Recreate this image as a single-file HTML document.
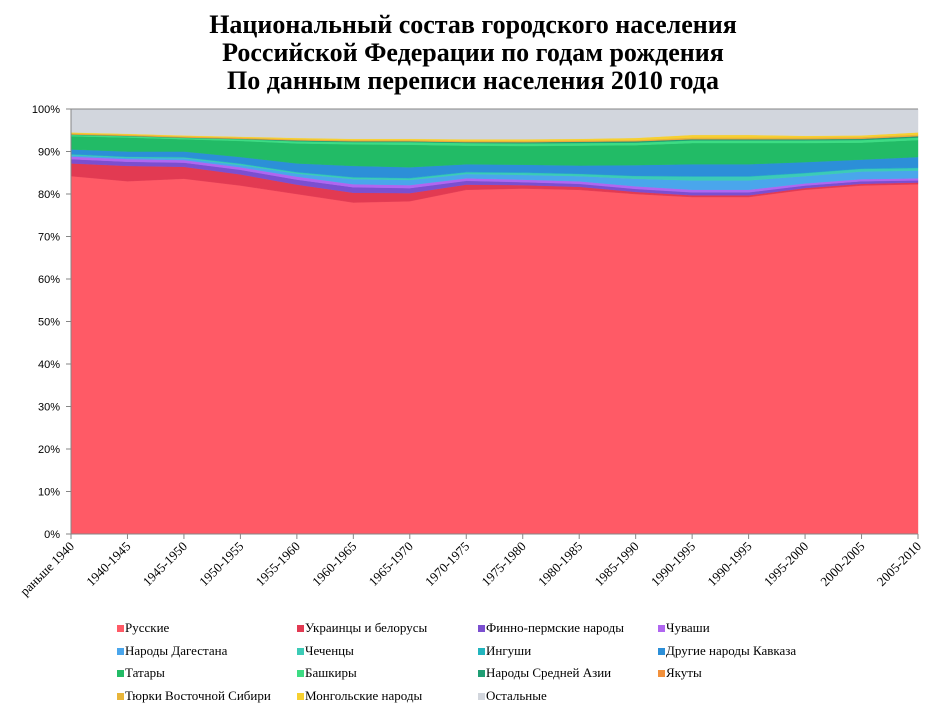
<!DOCTYPE html>
<html><head><meta charset="utf-8">
<style>
html,body{margin:0;padding:0;background:#fff;}
body{width:945px;height:718px;overflow:hidden;font-family:"Liberation Serif","Noto Serif CJK SC",serif;}
svg{display:block;}
</style></head>
<body>
<svg id="chart" width="945" height="718" viewBox="0 0 945 718" xmlns="http://www.w3.org/2000/svg">
<g font-family="Liberation Serif, serif" font-weight="bold" font-size="26" text-anchor="middle" fill="#000">
<text x="473" y="33">Национальный состав городского населения</text>
<text x="473" y="61">Российской Федерации по годам рождения</text>
<text x="473" y="89">По данным переписи населения 2010 года</text>
</g>
<g id="plot"></g>
<g id="axes"></g>
<g id="legend"></g>
</svg>
<script>
const categories = ["раньше 1940","1940-1945","1945-1950","1950-1955","1955-1960","1960-1965","1965-1970","1970-1975","1975-1980","1980-1985","1985-1990","1990-1995","1990-1995","1995-2000","2000-2005","2005-2010"];
const seriesNames = ["Русские","Украинцы и белорусы","Финно-пермские народы","Чуваши","Народы Дагестана","Чеченцы","Ингуши","Другие народы Кавказа","Татары","Башкиры","Народы Средней Азии","Якуты","Тюрки Восточной  Сибири","Монгольские народы","Остальные"];
const seriesColors = ["#FF5A66","#E23A52","#7B4FD0","#B066F0","#4AA6EC","#3CCBB6","#22B5BE","#2C8FD8","#22BB66","#3DDC84","#1F9E74","#F2913C","#E8B53A","#F7D030","#D2D6DD"];
const sRus   = [84.2,83.0,83.6,82.0,80.0,78.0,78.3,81.0,81.3,81.0,80.0,79.3,79.3,81.0,82.0,82.3];
const sUkr   = [3.0,3.6,2.8,2.6,2.2,2.3,1.9,1.2,0.8,0.7,0.5,0.4,0.4,0.4,0.4,0.4];
const sFinno = [1.0,1.0,1.0,1.1,1.2,1.3,1.2,0.9,0.7,0.7,0.7,0.7,0.7,0.6,0.6,0.5];
const sChuv  = [0.6,0.6,0.6,0.6,0.7,0.7,0.7,0.6,0.6,0.6,0.6,0.6,0.6,0.5,0.5,0.5];
const sDag   = [0.3,0.3,0.4,0.5,0.7,1.2,1.2,1.0,1.1,1.2,1.8,2.2,2.2,1.7,1.8,1.8];
const sChech = [0.2,0.2,0.2,0.3,0.3,0.4,0.4,0.4,0.5,0.5,0.6,0.9,0.9,0.7,0.6,0.6];
const sIng   = [0.1,0.1,0.1,0.1,0.1,0.1,0.1,0.1,0.1,0.1,0.1,0.1,0.1,0.1,0.1,0.1];
const sCauc  = [1.1,1.2,1.3,1.5,2.0,2.6,2.5,1.8,1.8,1.9,2.5,2.8,2.8,2.5,2.1,2.5];
const sTat   = [3.1,3.3,2.9,3.8,4.7,5.1,5.3,4.4,4.4,4.7,4.7,5.0,5.0,4.5,4.0,4.0];
const sBash  = [0.3,0.3,0.3,0.4,0.5,0.5,0.6,0.6,0.6,0.6,0.6,0.6,0.6,0.6,0.6,0.6];
const sCAsia = [0.1,0.1,0.1,0.1,0.2,0.2,0.2,0.2,0.3,0.3,0.3,0.3,0.3,0.3,0.3,0.3];
const sYak   = [0.1,0.1,0.1,0.1,0.1,0.1,0.1,0.1,0.1,0.1,0.1,0.1,0.1,0.1,0.1,0.1];
const sTurk  = [0.2,0.2,0.2,0.2,0.2,0.2,0.2,0.2,0.2,0.2,0.2,0.3,0.3,0.3,0.3,0.3];
const sMong  = [0.2,0.2,0.2,0.2,0.3,0.3,0.3,0.4,0.4,0.4,0.5,0.6,0.6,0.4,0.4,0.5];
const sOther = [5.5,5.8,6.2,6.5,6.8,7.0,7.0,7.1,7.1,7.0,6.8,6.1,6.1,6.3,6.2,5.5];
const yTicks = [0,10,20,30,40,50,60,70,80,90,100];

const series = [sRus,sUkr,sFinno,sChuv,sDag,sChech,sIng,sCauc,sTat,sBash,sCAsia,sYak,sTurk,sMong,sOther];
const NS="http://www.w3.org/2000/svg";
const X0=71, X1=918, Y0=534, Y1=109;
function xScale(i){return X0+(X1-X0)*i/(categories.length-1);}
function yScale(v){return Y0-(Y0-Y1)*v/100;}
function mk(tag,attrs,parent){const e=document.createElementNS(NS,tag);for(const k in attrs)e.setAttribute(k,attrs[k]);parent.appendChild(e);return e;}

const plot=document.getElementById('plot');
const n=categories.length;
const totals=categories.map((c,i)=>series.reduce((s,a)=>s+a[i],0));
let cum=new Array(n).fill(0);
series.forEach((arr,si)=>{
  const lower=cum.slice();
  const upper=cum.map((c,i)=>c+arr[i]/totals[i]*100);
  let d="";
  for(let i=0;i<n;i++) d+=(i?"L":"M")+xScale(i).toFixed(1)+","+yScale(upper[i]).toFixed(1);
  for(let i=n-1;i>=0;i--) d+="L"+xScale(i).toFixed(1)+","+yScale(lower[i]).toFixed(1);
  d+="Z";
  const p=mk('path',{d:d,fill:seriesColors[si],stroke:seriesColors[si],'stroke-width':0.4},plot);
  
  
  cum=upper;
});

const axes=document.getElementById('axes');
const bl=mk('line',{x1:X0,y1:Y1,x2:X0,y2:Y0,stroke:'#868686','stroke-width':1},axes);


const xl=mk('line',{x1:X0,y1:Y0,x2:X1,y2:Y0,stroke:'#868686','stroke-width':1},axes);


const tl=mk('line',{x1:X0,y1:Y1,x2:X1,y2:Y1,stroke:'#868686','stroke-width':1},axes);


yTicks.forEach(v=>{
  const y=yScale(v);
  mk('line',{x1:X0-5,y1:y,x2:X0,y2:y,stroke:'#868686'},axes);
  const t=mk('text',{x:X0-11,y:y+4,'text-anchor':'end','font-family':'Liberation Sans, sans-serif','font-size':11,fill:'#000'},axes);
  t.textContent=v+'%';
  
  
});
categories.forEach((c,i)=>{
  const x=xScale(i);
  mk('line',{x1:x,y1:Y0,x2:x,y2:Y0+5,stroke:'#868686'},axes);
  const t=mk('text',{x:x+4,y:Y0+13,'text-anchor':'end','font-family':'Liberation Serif, serif','font-size':13,fill:'#000',transform:'rotate(-45 '+(x+4)+' '+(Y0+13)+')'},axes);
  t.textContent=c;
  
  
});

const legend=document.getElementById('legend');
const colX=[117,297,478,658], rowY=[632,655,677,700];
seriesNames.forEach((nm,i)=>{
  const cx=colX[i%4], cy=rowY[Math.floor(i/4)];
  const g=mk('g',{},legend);
  
  
  mk('rect',{x:cx,y:cy-7,width:7,height:7,fill:seriesColors[i]},g);
  const t=mk('text',{x:cx+8,y:cy,'font-family':'Liberation Serif, serif','font-size':13,fill:'#000'},g);
  t.textContent=nm;
});
</script>
</body></html>
